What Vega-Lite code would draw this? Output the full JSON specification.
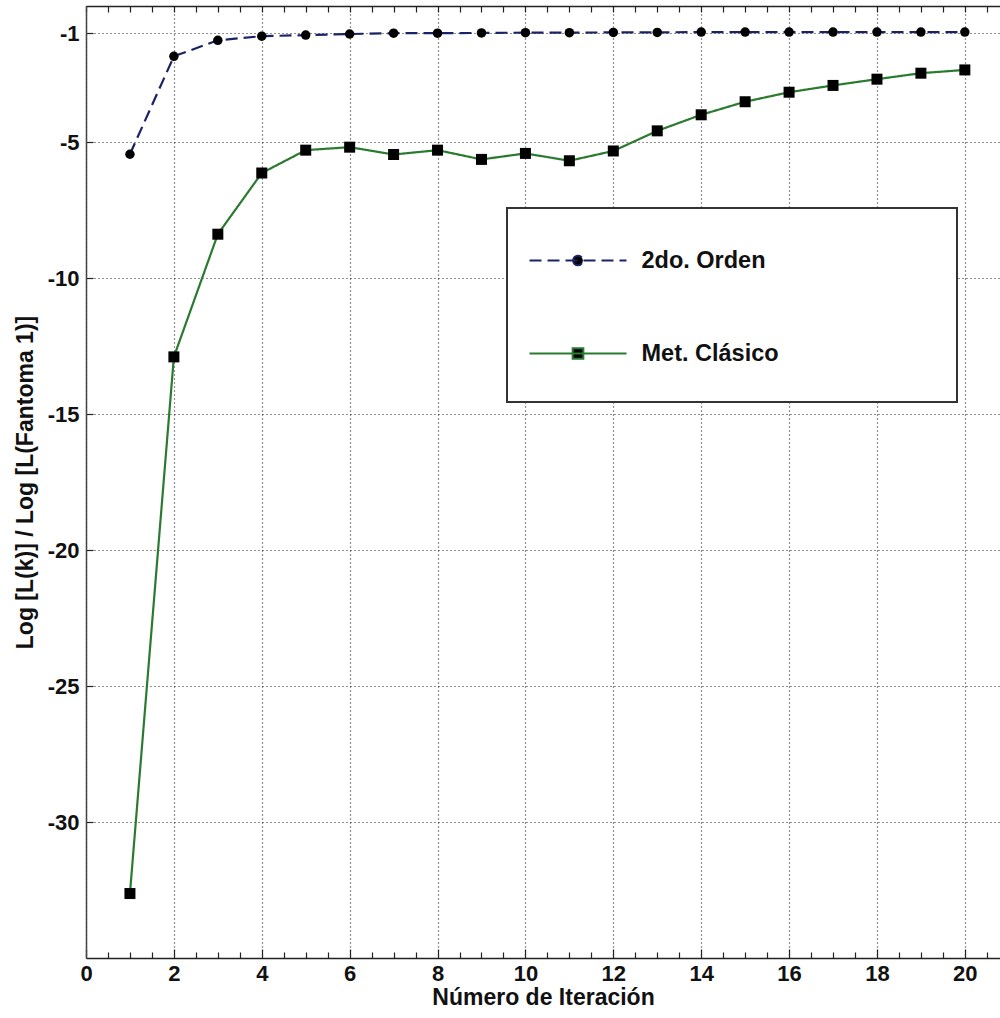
{
  "$schema": "https://vega.github.io/schema/vega-lite/v6.json",
  "width": 914,
  "height": 952,
  "autosize": {"type": "none"},
  "padding": {"left": 86, "top": 6, "right": 0, "bottom": 60},
  "background": "white",
  "config": {"view": {"stroke": null}, "font": "Liberation Sans"},
  "data": {
    "values": [
      {"x": 1, "y": -5.45, "serie": "2do. Orden"},
      {"x": 2, "y": -1.85, "serie": "2do. Orden"},
      {"x": 3, "y": -1.26, "serie": "2do. Orden"},
      {"x": 4, "y": -1.11, "serie": "2do. Orden"},
      {"x": 5, "y": -1.07, "serie": "2do. Orden"},
      {"x": 6, "y": -1.03, "serie": "2do. Orden"},
      {"x": 7, "y": -1.0, "serie": "2do. Orden"},
      {"x": 8, "y": -1.0, "serie": "2do. Orden"},
      {"x": 9, "y": -0.99, "serie": "2do. Orden"},
      {"x": 10, "y": -0.98, "serie": "2do. Orden"},
      {"x": 11, "y": -0.98, "serie": "2do. Orden"},
      {"x": 12, "y": -0.97, "serie": "2do. Orden"},
      {"x": 13, "y": -0.97, "serie": "2do. Orden"},
      {"x": 14, "y": -0.96, "serie": "2do. Orden"},
      {"x": 15, "y": -0.96, "serie": "2do. Orden"},
      {"x": 16, "y": -0.96, "serie": "2do. Orden"},
      {"x": 17, "y": -0.96, "serie": "2do. Orden"},
      {"x": 18, "y": -0.96, "serie": "2do. Orden"},
      {"x": 19, "y": -0.96, "serie": "2do. Orden"},
      {"x": 20, "y": -0.96, "serie": "2do. Orden"},
      {"x": 1, "y": -32.63, "serie": "Met. Clásico"},
      {"x": 2, "y": -12.9, "serie": "Met. Clásico"},
      {"x": 3, "y": -8.39, "serie": "Met. Clásico"},
      {"x": 4, "y": -6.14, "serie": "Met. Clásico"},
      {"x": 5, "y": -5.3, "serie": "Met. Clásico"},
      {"x": 6, "y": -5.19, "serie": "Met. Clásico"},
      {"x": 7, "y": -5.46, "serie": "Met. Clásico"},
      {"x": 8, "y": -5.3, "serie": "Met. Clásico"},
      {"x": 9, "y": -5.64, "serie": "Met. Clásico"},
      {"x": 10, "y": -5.42, "serie": "Met. Clásico"},
      {"x": 11, "y": -5.69, "serie": "Met. Clásico"},
      {"x": 12, "y": -5.33, "serie": "Met. Clásico"},
      {"x": 13, "y": -4.59, "serie": "Met. Clásico"},
      {"x": 14, "y": -4.0, "serie": "Met. Clásico"},
      {"x": 15, "y": -3.52, "serie": "Met. Clásico"},
      {"x": 16, "y": -3.17, "serie": "Met. Clásico"},
      {"x": 17, "y": -2.92, "serie": "Met. Clásico"},
      {"x": 18, "y": -2.69, "serie": "Met. Clásico"},
      {"x": 19, "y": -2.47, "serie": "Met. Clásico"},
      {"x": 20, "y": -2.35, "serie": "Met. Clásico"}
    ]
  },
  "resolve": {"axis": {"x": "independent", "y": "independent"}},
  "layer": [
    {
      "mark": {"type": "line", "strokeWidth": 2.2},
      "encoding": {
        "x": {
          "field": "x", "type": "quantitative",
          "scale": {"domain": [0, 20.8], "nice": false, "zero": false},
          "axis": {
            "orient": "bottom",
            "values": [0, 2, 4, 6, 8, 10, 12, 14, 16, 18, 20],
            "grid": true, "gridDash": [1, 3], "gridColor": "#222", "gridWidth": 1.2, "gridOpacity": 1,
            "ticks": true, "tickSize": -9, "tickColor": "#222", "tickWidth": 1.2,
            "domain": true, "domainColor": "#222", "domainWidth": 1.5,
            "labelFont": "Liberation Sans", "labelFontSize": 22, "labelFontWeight": "bold", "labelColor": "#111",
            "labelPadding": 14, "labelFlush": false, "labelOverlap": false,
            "labelExpr": "'' + datum.value",
            "title": "Número de Iteración", "titleFont": "Liberation Sans", "titleFontSize": 23, "titleFontWeight": "bold",
            "titleColor": "#111", "titlePadding": 2
          }
        },
        "y": {
          "field": "y", "type": "quantitative",
          "scale": {"domain": [-35, 0], "nice": false, "zero": false},
          "axis": {
            "orient": "left",
            "values": [-1, -5, -10, -15, -20, -25, -30],
            "grid": true, "gridDash": [1, 3], "gridColor": "#222", "gridWidth": 1.2, "gridOpacity": 1,
            "ticks": true, "tickSize": -7, "tickColor": "#222", "tickWidth": 1.2,
            "domain": true, "domainColor": "#444", "domainWidth": 1.5,
            "labelFont": "Liberation Sans", "labelFontSize": 22, "labelFontWeight": "bold", "labelColor": "#111",
            "labelPadding": 14, "labelOverlap": false, "labelFlush": false,
            "labelExpr": "'' + datum.value",
            "title": "Log [L(k)] / Log [L(Fantoma 1)]", "titleFont": "Liberation Sans", "titleFontSize": 23,
            "titleFontWeight": "bold", "titleColor": "#111", "titlePadding": 10
          }
        },
        "color": {
          "field": "serie", "type": "nominal",
          "scale": {"domain": ["2do. Orden", "Met. Clásico"], "range": ["#1c2266", "#2a7a30"]},
          "legend": {
            "orient": "none", "legendX": 421, "legendY": 202,
            "title": null, "direction": "vertical",
            "fillColor": "white", "strokeColor": "#333",
            "padding": 3, "rowPadding": 0,
            "symbolSize": 9409, "symbolStrokeWidth": 2, "symbolOffset": 18.5,
            "labelFont": "Liberation Sans", "labelFontSize": 23.5, "labelFontWeight": "bold", "labelColor": "#111",
            "labelOffset": 14, "labelLimit": 0,
            "encode": {
              "legend": {"update": {"strokeWidth": {"value": 2}}},
              "symbols": {
                "update": {
                  "shape": {"signal": "datum.value === '2do. Orden' ? 'M-1,-1M1,0.75M-1,0L1,0M-0.1,0A0.1,0.1,0,1,0,0.1,0A0.1,0.1,0,1,0,-0.1,0M7.67,0' : 'M-1,-1M1,0.85M-1,0L1,0M-0.11,-0.11L0.11,-0.11L0.11,0.11L-0.11,0.11ZM7.67,0'"},
                  "fill": {"value": "black"},
                  "strokeDash": {"signal": "datum.value === '2do. Orden' ? [12, 6] : [1, 0]"},
                  "opacity": {"value": 1}
                }
              }
            }
          }
        },
        "strokeDash": {
          "field": "serie", "type": "nominal",
          "scale": {"domain": ["2do. Orden", "Met. Clásico"], "range": [[12, 6], [1, 0]]},
          "legend": null
        }
      }
    },
    {
      "transform": [{"filter": "datum.serie === '2do. Orden'"}],
      "mark": {"type": "point", "shape": "circle", "filled": true, "color": "black", "size": 90, "opacity": 1},
      "encoding": {
        "x": {
          "field": "x", "type": "quantitative",
          "scale": {"domain": [0, 20.8], "nice": false, "zero": false},
          "axis": {
            "orient": "bottom",
            "values": [0.5, 1, 1.5, 2.5, 3, 3.5, 4.5, 5, 5.5, 6.5, 7, 7.5, 8.5, 9, 9.5, 10.5, 11, 11.5, 12.5, 13, 13.5, 14.5, 15, 15.5, 16.5, 17, 17.5, 18.5, 19, 19.5, 20.5],
            "grid": false, "labels": false, "domain": false, "title": null,
            "ticks": true, "tickSize": -6, "tickColor": "#222", "tickWidth": 1.2
          }
        },
        "y": {
          "field": "y", "type": "quantitative",
          "scale": {"domain": [-35, 0], "nice": false, "zero": false},
          "axis": null
        }
      }
    },
    {
      "transform": [{"filter": "datum.serie === 'Met. Clásico'"}],
      "mark": {"type": "point", "shape": "square", "filled": true, "color": "black", "size": 121, "opacity": 1},
      "encoding": {
        "x": {
          "field": "x", "type": "quantitative",
          "scale": {"domain": [0, 20.8], "nice": false, "zero": false},
          "axis": {
            "orient": "top",
            "values": [0, 0.5, 1, 1.5, 2, 2.5, 3, 3.5, 4, 4.5, 5, 5.5, 6, 6.5, 7, 7.5, 8, 8.5, 9, 9.5, 10, 10.5, 11, 11.5, 12, 12.5, 13, 13.5, 14, 14.5, 15, 15.5, 16, 16.5, 17, 17.5, 18, 18.5, 19, 19.5, 20, 20.5],
            "grid": false, "labels": false, "title": null,
            "domain": true, "domainColor": "#222", "domainWidth": 1.5,
            "ticks": true, "tickSize": -6, "tickColor": "#222", "tickWidth": 1.2
          }
        },
        "y": {
          "field": "y", "type": "quantitative",
          "scale": {"domain": [-35, 0], "nice": false, "zero": false},
          "axis": null
        }
      }
    }
  ]
}
